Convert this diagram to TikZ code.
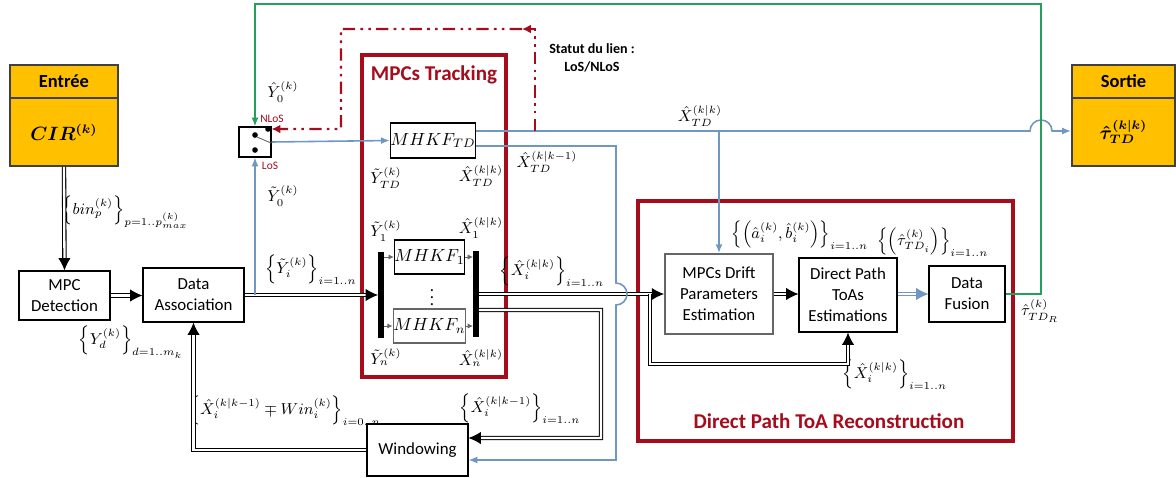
\documentclass[tikz,border=0pt]{standalone}
\usepackage{amsmath,amssymb}
\usepackage{fontspec}
\setmainfont{Carlito}
\usetikzlibrary{arrows.meta, positioning}

\definecolor{boxorange}{RGB}{255,192,0}
\definecolor{grpred}{RGB}{165,12,28}
\definecolor{linkblue}{RGB}{112,150,194}
\definecolor{loopgreen}{RGB}{36,160,92}

\begin{document}
\begin{tikzpicture}[
  x=0.02cm, y=-0.02cm,
  font=\fontsize{9.6}{12}\selectfont,
  blk/.style={draw, line width=0.6pt, align=center, inner sep=0pt},
  grayblk/.style={blk, draw=black!60, line width=1.1pt},
  iohead/.style={draw=black!75, line width=1.2pt, fill=boxorange,
                 minimum width=2.16cm, minimum height=0.66cm,
                 font=\fontsize{10.5}{12}\selectfont\bfseries},
  iobody/.style={iohead, minimum height=1.36cm},
  grp/.style={draw=grpred, line width=2.4pt},
  grptitle/.style={text=grpred, font=\fontsize{12}{14}\selectfont\bfseries},
  bar/.style={fill=black, inner sep=0pt, minimum width=3pt},
  lbl/.style={inner sep=1pt, font=\fontsize{9.2}{11}\selectfont},
  dbl/.style={double, double distance=1.3pt, line width=0.6pt,
              -{Latex[length=7pt,width=7pt]}},
  thinarr/.style={draw=black!60, line width=0.5pt, -{Latex[length=3pt,width=3pt]}},
  bl/.style={draw=linkblue, line width=0.9pt, -{Latex[length=5pt,width=4pt]}},
  gl/.style={draw=loopgreen, line width=1pt, -{Latex[length=5pt,width=4pt]}},
  rdash/.style={draw=grpred, line width=1.4pt, dash pattern=on 7pt off 3pt on 1.5pt off 3pt on 1.5pt off 3pt,
                -{Latex[length=5pt,width=5pt]}}
]
  \useasboundingbox (0,0) rectangle (1176,477);

  % inputs / outputs
  \node[iohead] (inhead) at (64,81.5) {Entrée};
  \node[iobody] (inbody) at (64,132) {$\boldsymbol{CIR^{(k)}}$};
  \node[iohead, minimum width=2.06cm] (outhead) at (1123.5,81.5) {Sortie};
  \node[iobody, minimum width=2.06cm] (outbody) at (1123.5,132)
    {$\boldsymbol{\hat{\tau}_{TD}^{(k|k)}}$};

  % groups
  \draw[grp] (362,55) rectangle (506,377);
  \node[grptitle] (tracktitle) at (434,75) {MPCs Tracking};
  \draw[grp] (638,201) rectangle (1013,441);
  \node[grptitle] (recontitle) at (829,421) {Direct Path ToA Reconstruction};

  % blocks
  \node[blk, minimum width=1.82cm, minimum height=0.98cm] (det) at (64.5,295.5) {MPC\\Detection};
  \node[blk, minimum width=2.02cm, minimum height=1.08cm] (da) at (193.5,295) {Data\\Association};
  \node[blk, minimum width=0.64cm, minimum height=0.6cm] (sw) at (255,142) {};
  \node[blk, minimum width=1.6cm, minimum height=0.7cm] (mtd) at (433,140.5) {$MHKF_{TD}$};
  \node[blk, minimum width=1.34cm, minimum height=0.68cm] (m1) at (429.5,257) {$MHKF_1$};
  \node[grayblk, minimum width=1.34cm, minimum height=0.68cm] (mn) at (429.5,326) {$MHKF_n$};
  \node (vdots) at (432,292) {$\vdots$};
  \node[bar, minimum height=1.72cm] (lbar) at (381,295) {};
  \node[bar, minimum height=1.74cm] (rbar) at (476,294) {};
  \node[blk, minimum width=2.02cm, minimum height=1.04cm] (win) at (417.5,450) {Windowing};
  \node[grayblk, minimum width=2.16cm, minimum height=1.6cm] (drift) at (719,294)
    {MPCs Drift\\Parameters\\Estimation};
  \node[blk, minimum width=1.96cm, minimum height=1.48cm] (dpt) at (848,295)
    {Direct Path\\ToAs\\Estimations};
  \node[blk, minimum width=1.52cm, minimum height=1.12cm] (fuse) at (967,294) {Data\\Fusion};

  % switch contacts
  \fill (255,135) circle (1.6pt) (255,150) circle (1.6pt) (268,129) circle (1.6pt);
  \draw[black!60, line width=0.5pt] (257,137) -- (271,143);
  \node[lbl, text=grpred, font=\fontsize{6.5}{8}\selectfont] (nlos) at (272,119) {NLoS};
  \node[lbl, text=grpred, font=\fontsize{6.5}{8}\selectfont] (los) at (270,166) {LoS};
  \node[lbl, align=center, font=\fontsize{8}{10}\selectfont\bfseries] (statut) at (592,58)
    {Statut du lien :\\LoS/NLoS};

  % labels
  \node[lbl] (lbin) at (125,212) {$\left\{bin_p^{(k)}\right\}_{p=1..p_{max}^{(k)}}$};
  \node[lbl] (lyd) at (131,342) {$\left\{Y_d^{(k)}\right\}_{d=1..m_k}$};
  \node[lbl] (lyi) at (311,270) {$\left\{\tilde{Y}_i^{(k)}\right\}_{i=1..n}$};
  \node[lbl] (ly0h) at (283,92) {$\hat{Y}_0^{(k)}$};
  \node[lbl] (ly0t) at (283,196) {$\tilde{Y}_0^{(k)}$};
  \node[lbl] (lytd) at (386,178) {$\tilde{Y}_{TD}^{(k)}$};
  \node[lbl] (lxtd) at (481,176) {$\hat{X}_{TD}^{(k|k)}$};
  \node[lbl] (ly1) at (386,231) {$\tilde{Y}_1^{(k)}$};
  \node[lbl] (lx1) at (481,228) {$\hat{X}_1^{(k|k)}$};
  \node[lbl] (lyn) at (386,357) {$\tilde{Y}_n^{(k)}$};
  \node[lbl] (lxn) at (481,358) {$\hat{X}_n^{(k|k)}$};
  \node[lbl] (lxtdp) at (547,162) {$\hat{X}_{TD}^{(k|k-1)}$};
  \node[lbl] (lxtdo) at (700,116) {$\hat{X}_{TD}^{(k|k)}$};
  \node[lbl] (lxi) at (552,272) {$\left\{\hat{X}_i^{(k|k)}\right\}_{i=1..n}$};
  \node[lbl] (lxip) at (520,409) {$\left\{\hat{X}_i^{(k|k-1)}\right\}_{i=1..n}$};
  \node[lbl] (lwin) at (285,411) {$\left\{\hat{X}_i^{(k|k-1)}\mp Win_i^{(k)}\right\}_{i=0..n}$};
  \node[lbl, font=\fontsize{8.6}{10}\selectfont] (lab) at (800,235)
    {$\Bigl\{\Bigl(\hat{a}_i^{(k)},\hat{b}_i^{(k)}\Bigr)\Bigr\}_{i=1..n}$};
  \node[lbl, font=\fontsize{8.6}{10}\selectfont] (ltau) at (933,242)
    {$\Bigl\{\Bigl(\hat{\tau}_{TD_i}^{(k)}\Bigr)\Bigr\}_{i=1..n}$};
  \node[lbl] (lxi2) at (895,375) {$\left\{\hat{X}_i^{(k|k)}\right\}_{i=1..n}$};
  \node[lbl] (ltaur) at (1040,311) {$\hat{\tau}_{TD_R}^{(k)}$};

  \coordinate (tdrow) at (0,131);
  \coordinate (gtop) at (1041,4);
  \coordinate (rtop) at (535,29);
  \coordinate (rmid) at (522,29);

  % black flow
  \draw[dbl] (inbody.south) -- (det.north);
  \draw[dbl] (det.east) -- (det.east -| da.west);
  \draw[dbl] (da.east) -- (da.east -| lbar.west);
  \draw[thinarr] (lbar.east |- m1.west) -- (m1.west);
  \draw[thinarr] (lbar.east |- mn.west) -- (mn.west);
  \draw[thinarr] (m1.east) -- (m1.east -| rbar.west);
  \draw[thinarr] (mn.east) -- (mn.east -| rbar.west);
  \draw[dbl] (rbar.east) -- (drift.west);
  \draw[dbl] ([yshift=-0.32cm]rbar.east) -- (601,310) |- ([yshift=0.24cm]win.east);
  \draw[dbl] (win.west) -| (da.south);
  \draw[dbl] (drift.east) -- (drift.east -| dpt.west);
  \draw[dbl] (650,294) -- (650,364) -| (dpt.south);
  \draw[dbl, draw=linkblue] (dpt.east |- fuse.west) -- (fuse.west);

  % blue links
  \draw[bl] (da.east -| sw.south) -- (sw.south);
  \draw[bl] (sw.east) -- (mtd.west);
  \draw[bl] (mtd.east |- tdrow) -- (1030,131)
    arc[start angle=180, end angle=0, radius=0.22cm] -- (outbody.west |- tdrow);
  \draw[bl] (drift.north |- tdrow) -- (drift.north);
  \draw[bl] ([yshift=-0.11cm]mtd.east) -- (616,146) -- (616,283)
    arc[start angle=90, end angle=-90, radius=0.22cm] -- (616,460) -- ([yshift=-0.2cm]win.east);

  % link status
  \draw[rdash] (535,131) -- (rtop) -- (rmid);
  \draw[rdash] (rmid) -- (341,29) -- (341,129) -- ([yshift=0.26cm]sw.east);
  \draw[gl] (fuse.east) -| (gtop) -| (sw.north);
\end{tikzpicture}
\end{document}
